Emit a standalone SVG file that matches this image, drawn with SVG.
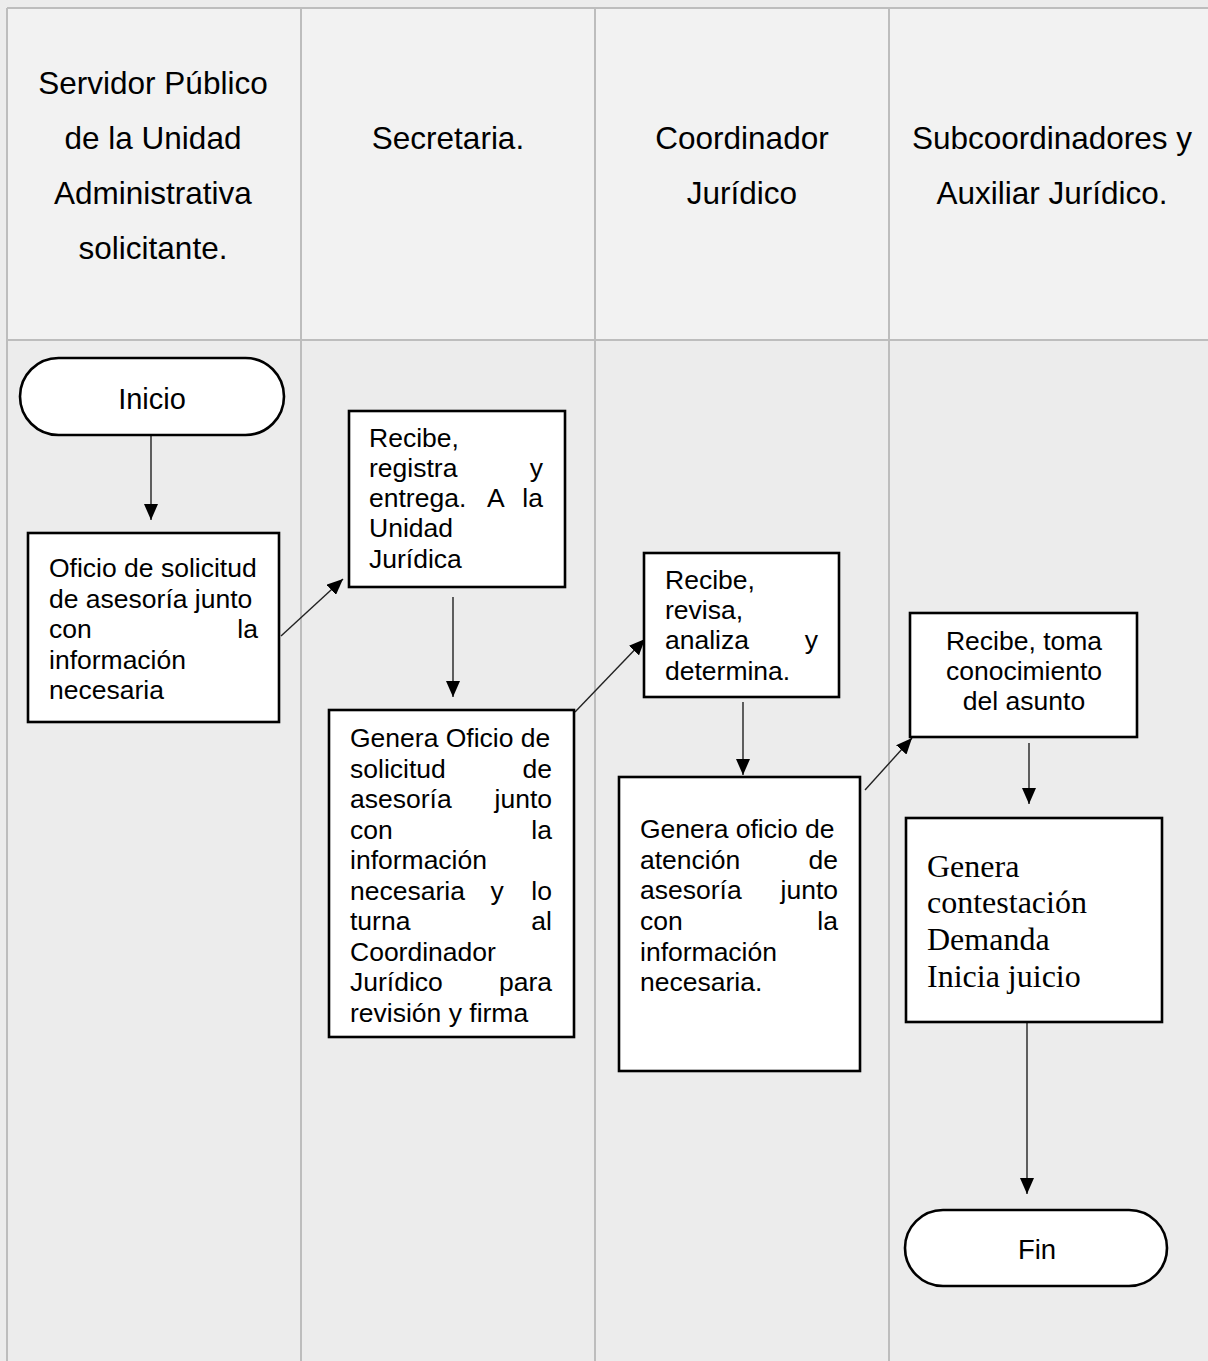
<svg xmlns="http://www.w3.org/2000/svg" width="1208" height="1361" viewBox="0 0 1208 1361">
<style>
.hdr{font-family:"Liberation Sans",Arial,sans-serif;font-size:31.5px;fill:#000;text-anchor:middle}
.t{font-family:"Liberation Sans",Arial,sans-serif;font-size:26.5px;fill:#000}
.e{text-anchor:end}
.m{text-anchor:middle}
.ser{font-family:"Liberation Serif","Times New Roman",serif;font-size:32px;fill:#000}
.box{fill:#fff;stroke:#000;stroke-width:2.6}
.grid{stroke:#bdbdbd;stroke-width:2;fill:none}
.con{stroke:#222;stroke-width:1.4;fill:none;marker-end:url(#ah)}
</style>
<defs>
<marker id="ah" markerUnits="userSpaceOnUse" markerWidth="16" markerHeight="14" viewBox="0 0 16 14" refX="16" refY="7" orient="auto">
<path d="M0,0 L16,7 L0,14 z" fill="#000"/>
</marker>
</defs>
<rect x="0" y="0" width="1208" height="1361" fill="#ececec"/>
<g id="table">
<rect x="7" y="8" width="1210" height="332" fill="#f2f2f2"/>
<path class="grid" d="M7,8 H1208 M7,340 H1208 M7,8 V1361 M301,8 V1361 M595,8 V1361 M889,8 V1361"/>
</g>
<g id="headers">
<text class="hdr" x="153" y="94">Servidor Público</text>
<text class="hdr" x="153" y="149">de la Unidad</text>
<text class="hdr" x="153" y="204">Administrativa</text>
<text class="hdr" x="153" y="259">solicitante.</text>
<text class="hdr" x="448" y="149">Secretaria.</text>
<text class="hdr" x="742" y="149">Coordinador</text>
<text class="hdr" x="742" y="204">Jurídico</text>
<text class="hdr" x="1052" y="149">Subcoordinadores y</text>
<text class="hdr" x="1052" y="204">Auxiliar Jurídico.</text>
</g>
<g id="connectors">
<line class="con" x1="151" y1="432" x2="151" y2="520"/>
<line class="con" x1="281" y1="636" x2="343" y2="579"/>
<line class="con" x1="453" y1="597" x2="453" y2="697"/>
<line class="con" x1="575" y1="712" x2="645" y2="639"/>
<line class="con" x1="743" y1="702" x2="743" y2="775"/>
<line class="con" x1="865" y1="790" x2="912" y2="738"/>
<line class="con" x1="1029" y1="743" x2="1029" y2="804"/>
<line class="con" x1="1027" y1="1022" x2="1027" y2="1194"/>
</g>
<g id="inicio">
<rect class="box" x="20" y="358" width="264" height="77" rx="38.5"/>
<text class="t m" x="152" y="409" style="font-size:29px">Inicio</text>
</g>
<g id="oficio-solicitud">
<rect class="box" x="28" y="533" width="251" height="189"/>
<text class="t" x="49" y="577">Oficio de solicitud</text>
<text class="t" x="49" y="608">de asesoría junto</text>
<text class="t" x="49" y="638">con</text><text class="t e" x="258" y="638">la</text>
<text class="t" x="49" y="669">información</text>
<text class="t" x="49" y="699">necesaria</text>
</g>
<g id="recibe-registra">
<rect class="box" x="349" y="411" width="216" height="176"/>
<text class="t" x="369" y="447">Recibe,</text>
<text class="t" x="369" y="477">registra</text><text class="t e" x="543" y="477">y</text>
<text class="t" x="369" y="507">entrega.</text><text class="t" x="487" y="507">A</text><text class="t e" x="543" y="507">la</text>
<text class="t" x="369" y="537">Unidad</text>
<text class="t" x="369" y="568">Jurídica</text>
</g>
<g id="genera-oficio">
<rect class="box" x="329" y="710" width="245" height="327"/>
<text class="t" x="350" y="747">Genera Oficio de</text>
<text class="t" x="350" y="778">solicitud</text><text class="t e" x="552" y="778">de</text>
<text class="t" x="350" y="808">asesoría</text><text class="t e" x="552" y="808">junto</text>
<text class="t" x="350" y="839">con</text><text class="t e" x="552" y="839">la</text>
<text class="t" x="350" y="869">información</text>
<text class="t" x="350" y="900">necesaria</text><text class="t m" x="497" y="900">y</text><text class="t e" x="552" y="900">lo</text>
<text class="t" x="350" y="930">turna</text><text class="t e" x="552" y="930">al</text>
<text class="t" x="350" y="961">Coordinador</text>
<text class="t" x="350" y="991">Jurídico</text><text class="t e" x="552" y="991">para</text>
<text class="t" x="350" y="1022">revisión y firma</text>
</g>
<g id="recibe-revisa">
<rect class="box" x="644" y="553" width="195" height="144"/>
<text class="t" x="665" y="589">Recibe,</text>
<text class="t" x="665" y="619">revisa,</text>
<text class="t" x="665" y="649">analiza</text><text class="t e" x="818" y="649">y</text>
<text class="t" x="665" y="680">determina.</text>
</g>
<g id="genera-atencion">
<rect class="box" x="619" y="777" width="241" height="294"/>
<text class="t" x="640" y="838">Genera oficio de</text>
<text class="t" x="640" y="869">atención</text><text class="t e" x="838" y="869">de</text>
<text class="t" x="640" y="899">asesoría</text><text class="t e" x="838" y="899">junto</text>
<text class="t" x="640" y="930">con</text><text class="t e" x="838" y="930">la</text>
<text class="t" x="640" y="961">información</text>
<text class="t" x="640" y="991">necesaria.</text>
</g>
<g id="recibe-toma">
<rect class="box" x="910" y="613" width="227" height="124"/>
<text class="t m" x="1024" y="650">Recibe, toma</text>
<text class="t m" x="1024" y="680">conocimiento</text>
<text class="t m" x="1024" y="710">del asunto</text>
</g>
<g id="genera-contestacion">
<rect class="box" x="906" y="818" width="256" height="204"/>
<text class="ser" x="927" y="877">Genera</text>
<text class="ser" x="927" y="913">contestación</text>
<text class="ser" x="927" y="950">Demanda</text>
<text class="ser" x="927" y="987">Inicia juicio</text>
</g>
<g id="fin">
<rect class="box" x="905" y="1210" width="262" height="76" rx="38"/>
<text class="t m" x="1037" y="1259" style="font-size:27.5px">Fin</text>
</g>
</svg>
